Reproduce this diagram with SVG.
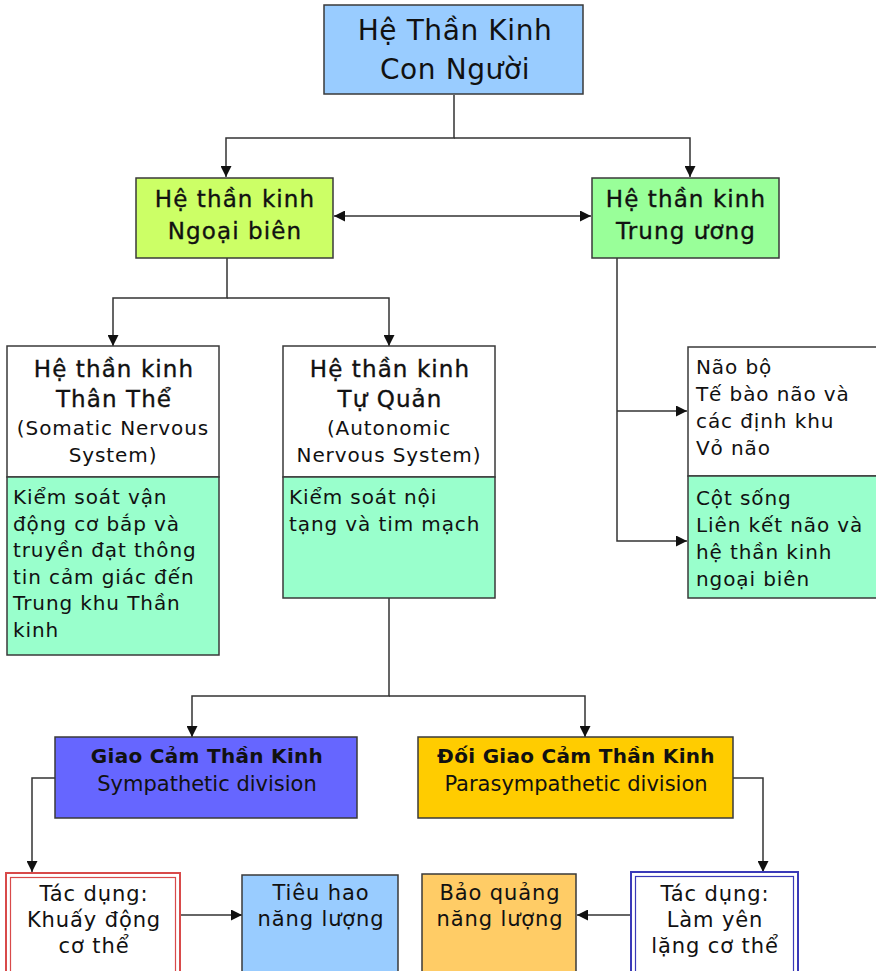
<svg xmlns="http://www.w3.org/2000/svg" width="876" height="971" viewBox="0 0 876 971">
<defs>
<marker id="ah" viewBox="0 0 10 10" refX="10" refY="5" markerWidth="11" markerHeight="11" markerUnits="userSpaceOnUse" orient="auto-start-reverse">
<path d="M0,0 L10,5 L0,10 z" fill="#111"/>
</marker>
</defs>
<style>
.box{stroke:#3a3a3a;stroke-width:1.5}
.t{font-family:"DejaVu Sans","Verdana","Noto Sans",sans-serif;fill:#111}
.c{text-anchor:middle}
.hd{font-size:23px;stroke:#111;stroke-width:0.35;letter-spacing:1.1px}
.bd{font-size:20px;letter-spacing:0.9px}
.bt{font-size:21px;letter-spacing:0.9px}
.conn{fill:none;stroke:#333;stroke-width:1.5}
</style>
<rect width="876" height="971" fill="#ffffff"/>

<g id="connectors">
<path class="conn" d="M454,95 V138 H226 V177" marker-end="url(#ah)"/>
<path class="conn" d="M454,138 H690 V177" marker-end="url(#ah)"/>
<path class="conn" d="M334,216 H591" marker-start="url(#ah)" marker-end="url(#ah)"/>
<path class="conn" d="M227,258 V298 H113 V346" marker-end="url(#ah)"/>
<path class="conn" d="M227,298 H389 V346" marker-end="url(#ah)"/>
<path class="conn" d="M617,258 V541 H687" marker-end="url(#ah)"/>
<path class="conn" d="M617,411 H687" marker-end="url(#ah)"/>
<path class="conn" d="M389,598 V696 H192 V737" marker-end="url(#ah)"/>
<path class="conn" d="M389,696 H585 V737" marker-end="url(#ah)"/>
<path class="conn" d="M55,778 H32 V872" marker-end="url(#ah)"/>
<path class="conn" d="M733,778 H763 V872" marker-end="url(#ah)"/>
<path class="conn" d="M181,915 H242" marker-end="url(#ah)"/>
<path class="conn" d="M630,915 H577" marker-end="url(#ah)"/>
</g>

<g id="root">
<rect class="box" x="324" y="5" width="259" height="89" fill="#99ccff"/>
<text class="t c" x="455" y="40" font-size="28" letter-spacing="0.6">Hệ Thần Kinh</text>
<text class="t c" x="455" y="79" font-size="28" letter-spacing="0.6">Con Người</text>
</g>

<g id="ngoai-bien">
<rect class="box" x="136" y="178" width="197" height="80" fill="#ccff66"/>
<text class="t c hd" x="235" y="207">Hệ thần kinh</text>
<text class="t c hd" x="235" y="239">Ngoại biên</text>
</g>

<g id="trung-uong">
<rect class="box" x="592" y="178" width="187" height="80" fill="#99ff99"/>
<text class="t c hd" x="686" y="207">Hệ thần kinh</text>
<text class="t c hd" x="686" y="239">Trung ương</text>
</g>

<g id="somatic">
<rect class="box" x="7" y="346" width="212" height="131" fill="#ffffff"/>
<rect class="box" x="7" y="477" width="212" height="178" fill="#99ffcc"/>
<text class="t c hd" x="114" y="377">Hệ thần kinh</text>
<text class="t c hd" x="114" y="407">Thân Thể</text>
<text class="t c bd" x="113" y="435">(Somatic Nervous</text>
<text class="t c bd" x="113" y="462">System)</text>
<text class="t bd" x="13" y="504">Kiểm soát vận</text>
<text class="t bd" x="13" y="531">động cơ bắp và</text>
<text class="t bd" x="13" y="557">truyền đạt thông</text>
<text class="t bd" x="13" y="584">tin cảm giác đến</text>
<text class="t bd" x="13" y="610">Trung khu Thần</text>
<text class="t bd" x="13" y="637">kinh</text>
</g>

<g id="autonomic">
<rect class="box" x="283" y="346" width="212" height="131" fill="#ffffff"/>
<rect class="box" x="283" y="477" width="212" height="121" fill="#99ffcc"/>
<text class="t c hd" x="390" y="377">Hệ thần kinh</text>
<text class="t c hd" x="390" y="407">Tự Quản</text>
<text class="t c bd" x="389" y="435">(Autonomic</text>
<text class="t c bd" x="389" y="462">Nervous System)</text>
<text class="t bd" x="289" y="504">Kiểm soát nội</text>
<text class="t bd" x="289" y="531">tạng và tim mạch</text>
</g>

<g id="brain">
<rect class="box" x="688" y="347" width="190" height="129" fill="#ffffff"/>
<text class="t bd" x="696" y="374">Não bộ</text>
<text class="t bd" x="696" y="401">Tế bào não và</text>
<text class="t bd" x="696" y="428">các định khu</text>
<text class="t bd" x="696" y="455">Vỏ não</text>
</g>

<g id="spine">
<rect class="box" x="688" y="476" width="190" height="122" fill="#99ffcc"/>
<text class="t bd" x="696" y="505">Cột sống</text>
<text class="t bd" x="696" y="532">Liên kết não và</text>
<text class="t bd" x="696" y="559">hệ thần kinh</text>
<text class="t bd" x="696" y="586">ngoại biên</text>
</g>

<g id="sympathetic">
<rect class="box" x="55" y="737" width="302" height="81" fill="#6666ff"/>
<text class="t c" x="207" y="763" font-size="20" font-weight="bold" letter-spacing="0.3">Giao Cảm Thần Kinh</text>
<text class="t c" x="207" y="791" font-size="21">Sympathetic division</text>
</g>

<g id="parasympathetic">
<rect class="box" x="418" y="737" width="315" height="81" fill="#ffcc00"/>
<text class="t c" x="576" y="763" font-size="20" font-weight="bold" letter-spacing="0.3">Đối Giao Cảm Thần Kinh</text>
<text class="t c" x="576" y="791" font-size="21">Parasympathetic division</text>
</g>

<g id="khuay-dong">
<rect x="6" y="873" width="174" height="110" fill="#ffffff" stroke="#d84a4a" stroke-width="2"/>
<rect x="10.5" y="877.5" width="165" height="110" fill="none" stroke="#d84a4a" stroke-width="1.2"/>
<text class="t c bt" x="94" y="901">Tác dụng:</text>
<text class="t c bt" x="94" y="927">Khuấy động</text>
<text class="t c bt" x="94" y="953">cơ thể</text>
</g>

<g id="tieu-hao">
<rect class="box" x="242" y="875" width="156" height="110" fill="#99ccff"/>
<text class="t c bt" x="321" y="900">Tiêu hao</text>
<text class="t c bt" x="321" y="926">năng lượng</text>
</g>

<g id="bao-quang">
<rect class="box" x="422" y="874" width="154" height="110" fill="#ffcc66"/>
<text class="t c bt" x="500" y="900">Bảo quảng</text>
<text class="t c bt" x="500" y="926">năng lượng</text>
</g>

<g id="lam-yen">
<rect x="631" y="872" width="167" height="110" fill="#ffffff" stroke="#3a3ab8" stroke-width="2"/>
<rect x="635.5" y="876.5" width="158" height="110" fill="none" stroke="#3a3ab8" stroke-width="1.2"/>
<text class="t c bt" x="715" y="901">Tác dụng:</text>
<text class="t c bt" x="715" y="927">Làm yên</text>
<text class="t c bt" x="715" y="953">lặng cơ thể</text>
</g>
</svg>
